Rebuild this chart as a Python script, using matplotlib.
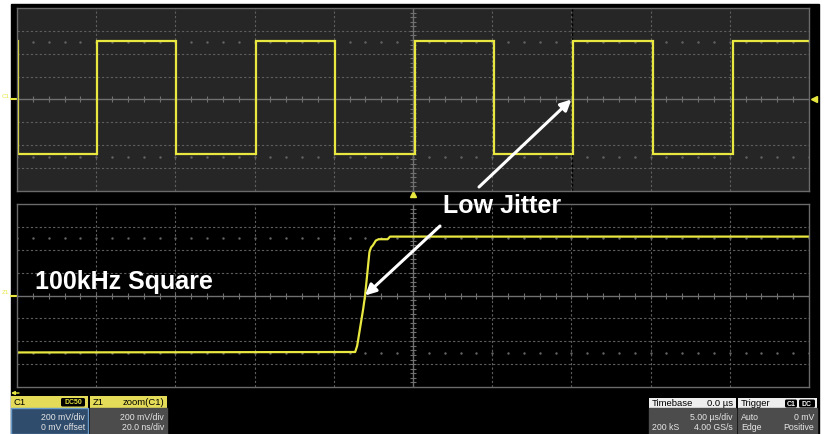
import numpy as np
import matplotlib
matplotlib.use("Agg")
import matplotlib.pyplot as plt
from matplotlib.patches import Rectangle, FancyBboxPatch

plt.rcParams['font.family'] = ['Liberation Sans', 'DejaVu Sans']

W, H = 826, 434

# --- data -------------------------------------------------------------
# C1 trace: 100 kHz square wave, 5 us/div, 200 mV/div
rise_us = [-19.95, -9.9, 0.1, 10.1, 20.2]
fall_us = [-24.95, -14.95, -4.9, 5.1, 15.15]
high_mv = 515
low_mv = -480

# Z1 trace: zoom on one rising edge, 20 ns/div
zoom_t_ns = [-100, -14.6, -14.1, -12.6, -12.1, -11.0, -10.6, -10.1, -9.4, -8.7, -6.4, -5.8, 100]
zoom_v_mv = [-498, -494, -440, -122, 0, 380, 420, 440, 480, 492, 492, 515, 515]

c1_info = ["200 mV/div", "0 mV offset"]
z1_info = ["200 mV/div", "20.0 ns/div"]
tb_info = [("", "5.00 µs/div"), ("200 kS", "4.00 GS/s")]
trig_info = [("Auto", "0 mV"), ("Edge", "Positive")]

YEL = '#e8e840'
GRID = '#5e5e5e'


def px_rect(x0, y0, x1, y1):
    return [x0 / W, 1 - y1 / H, (x1 - x0) / W, (y1 - y0) / H]


def square_trace(rise, fall, hi, lo, t0, t1):
    edges = sorted([(t, hi) for t in rise] + [(t, lo) for t in fall])
    ts, vs = [t0], [hi if edges[0][1] == lo else lo]
    for t, v in edges:
        ts += [t, t]
        vs += [vs[-1], v]
    ts.append(t1)
    vs.append(vs[-1])
    return ts, vs


def scope_grid(ax, xdiv, ydiv, bg):
    ax.set_facecolor(bg)
    x0, y0 = -5 * xdiv, -4 * ydiv
    ax.set_xlim(x0, -x0)
    ax.set_ylim(y0, -y0)
    ax.set_xticks([])
    ax.set_yticks([])
    for s in ax.spines.values():
        s.set_color('#6a6a6a')
        s.set_linewidth(1)
    for i in range(1, 10):
        x = x0 + i * xdiv
        if i != 5:
            ax.axvline(x, color=GRID, lw=0.8, ls=(0, (2, 2)))
    for j in range(1, 8):
        y = y0 + j * ydiv
        if j != 4:
            ax.axhline(y, color=GRID, lw=0.8, ls=(0, (2, 2)))
    ax.axvline(0, color='#707070', lw=1)
    ax.axhline(0, color='#707070', lw=1)
    mx = np.arange(x0, -x0 + 1e-9, xdiv / 5)
    my = np.arange(y0, -y0 + 1e-9, ydiv / 5)
    ax.plot(mx, np.zeros_like(mx), ls='none', marker='|', ms=4, color='#707070', mew=0.8)
    ax.plot(np.zeros_like(my), my, ls='none', marker='_', ms=4, color='#707070', mew=0.8)
    for yy in (2.5 * ydiv, -2.5 * ydiv):
        ax.plot(mx, np.full_like(mx, yy), ls='none', marker='s', ms=0.7, color='#646464')


fig = plt.figure(figsize=(W / 100, H / 100), dpi=100)
fig.patch.set_facecolor('white')

ax_bg = fig.add_axes([0, 0, 1, 1])
ax_bg.set_xlim(0, W)
ax_bg.set_ylim(H, 0)
ax_bg.axis('off')
ax_bg.add_patch(Rectangle((11, 4), 808, 430, color='black'))

ax_top = fig.add_axes(px_rect(17, 8, 809, 191))
scope_grid(ax_top, 5, 200, '#262626')
ax_top.axvline(10.05, color='black', lw=1, ls=(0, (2, 1.5)))
t, v = square_trace(rise_us, fall_us, high_mv, low_mv, -25, 25)
ax_top.plot(t, v, color=YEL, lw=1.6, solid_joinstyle='miter')
ax_top.plot([0], [-822], marker='^', ms=5, color=YEL, clip_on=False)
ax_top.plot([25.33], [0], marker='<', ms=5, color=YEL, clip_on=False)
ax_top.plot([-25.4, -25], [0, 0], color=YEL, lw=1.5, clip_on=False)

ax_bot = fig.add_axes(px_rect(17, 204, 809, 387))
scope_grid(ax_bot, 20, 200, 'black')
ax_bot.plot(zoom_t_ns, zoom_v_mv, color=YEL, lw=1.6)
ax_bot.plot([-101.6, -100], [0, 0], color=YEL, lw=1.5, clip_on=False)

ax_fg = fig.add_axes([0, 0, 1, 1])
ax_fg.set_zorder(5)
ax_fg.patch.set_alpha(0)
ax_fg.set_xlim(0, W)
ax_fg.set_ylim(H, 0)
ax_fg.axis('off')

ax_fg.text(2, 97, "C1", color=YEL, fontsize=4.5, va='center')
ax_fg.text(2, 293, "Z1", color=YEL, fontsize=4.5, va='center')

ax_fg.text(35, 289, "100kHz Square", color='white', fontsize=18, fontweight='bold', va='baseline')
ax_fg.text(443, 213, "Low Jitter", color='white', fontsize=18, fontweight='bold', va='baseline')

arrow = dict(arrowstyle='-|>', color='white', lw=2.2, mutation_scale=16, shrinkA=0, shrinkB=0)
ax_fg.annotate('', xy=(10.0, 0), xycoords=ax_top.transData, xytext=(479, 187),
               textcoords='data', arrowprops=arrow, annotation_clip=False)
ax_fg.annotate('', xy=(-12.1, 0), xycoords=ax_bot.transData, xytext=(440, 226),
               textcoords='data', arrowprops=arrow, annotation_clip=False)

# small yellow arrow under the grid
ax_fg.annotate('', xy=(11, 393), xytext=(19, 393), textcoords='data',
               arrowprops=dict(arrowstyle='-|>', color=YEL, lw=1, mutation_scale=5, shrinkA=0, shrinkB=0))

FS = 6.3


def info_box(x0, x1, head_col, body_col, edge_col, head_l, rows, y0=396, ym=408):
    ax_fg.add_patch(Rectangle((x0, y0), x1 - x0, ym - y0, color=head_col, lw=0))
    ax_fg.add_patch(Rectangle((x0, ym), x1 - x0, H - ym, facecolor=body_col,
                              edgecolor=edge_col, lw=1))
    ax_fg.text(x0 + 3, (y0 + ym) / 2 + 0.5, head_l, fontsize=FS + 0.5, color='black', va='center')
    for k, (l, r) in enumerate(rows):
        yy = ym + 9 + k * 11
        if l:
            ax_fg.text(x0 + 3, yy, l, fontsize=FS, color='#e6e6e6', va='center')
        ax_fg.text(x1 - 3, yy, r, fontsize=FS, color='#e6e6e6', va='center', ha='right')


def badge(x0, x1, y0, y1, label, col):
    ax_fg.add_patch(FancyBboxPatch((x0, y0), x1 - x0, y1 - y0, boxstyle='round,pad=0,rounding_size=1.5',
                                   color='black', lw=0))
    ax_fg.text((x0 + x1) / 2, (y0 + y1) / 2 + 0.5, label, fontsize=5, color=col,
               ha='center', va='center', fontweight='bold')


info_box(11, 88, '#e4dc58', '#2f4c6c', '#6a9ccc', "C1", [("", s) for s in c1_info])
badge(61, 85, 398, 406.5, "DC50", YEL)
info_box(90, 167, '#e4dc58', '#4c4c4c', '#4c4c4c', "Z1", [("", s) for s in z1_info])
ax_fg.text(164, 402.5, "zoom(C1)", fontsize=FS + 0.5, color='black', va='center', ha='right')

info_box(649, 736, '#eeeeee', '#4c4c4c', '#4c4c4c', "Timebase", tb_info, y0=398)
ax_fg.text(733, 403.5, "0.0 µs", fontsize=FS + 0.5, color='black', va='center', ha='right')
info_box(738, 817, '#eeeeee', '#4c4c4c', '#4c4c4c', "Trigger", trig_info, y0=398)
badge(785, 797, 399.5, 407.5, "C1", 'white')
badge(799, 815, 399.5, 407.5, "DC", 'white')

fig.savefig('out.png', dpi=100, facecolor=fig.get_facecolor())
